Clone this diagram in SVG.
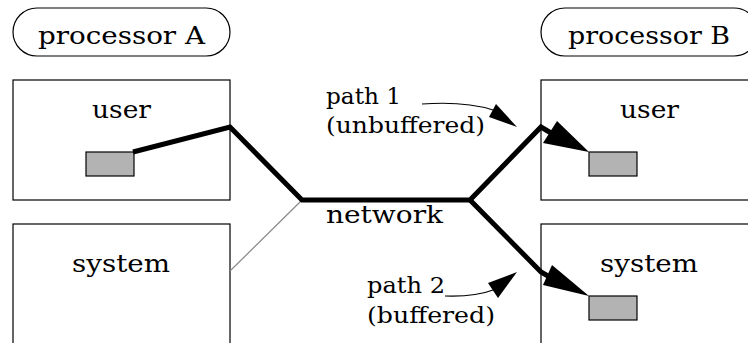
<svg xmlns="http://www.w3.org/2000/svg" width="748" height="343" viewBox="0 0 748 343">
  <style>
    .box { fill: #fff; stroke: #000; stroke-width: 1.2; }
    .pill { fill: #fff; stroke: #000; stroke-width: 1.2; }
    .buf { fill: #b3b3b3; stroke: #000; stroke-width: 1.2; }
    .big { font-family: "DejaVu Serif", "Liberation Serif", serif; font-size: 25px; fill: #000; }
    .small { font-family: "DejaVu Serif", "Liberation Serif", serif; font-size: 22px; fill: #000; }
    .path { fill: none; stroke: #000; stroke-width: 5; stroke-linejoin: miter; }
    .thin { fill: none; stroke: #000; stroke-width: 1.2; }
    .head { fill: #000; stroke: none; }
  </style>
  <rect width="748" height="343" fill="#fff"/>

  <g id="procA">
    <rect class="pill" x="13" y="8" width="217" height="48" rx="24" ry="24"/>
    <text class="big" x="38" y="44" textLength="167" lengthAdjust="spacingAndGlyphs">processor A</text>
  </g>
  <g id="procB">
    <rect class="pill" x="541" y="8" width="217" height="48" rx="24" ry="24"/>
    <text class="big" x="568" y="44" textLength="162" lengthAdjust="spacingAndGlyphs">processor B</text>
  </g>

  <g id="userA">
    <rect class="box" x="13" y="80" width="217" height="120"/>
    <text class="big" x="92" y="118" textLength="59" lengthAdjust="spacingAndGlyphs">user</text>
    <rect class="buf" x="86" y="152" width="48" height="24"/>
  </g>
  <g id="systemA">
    <rect class="box" x="13" y="224" width="217" height="130"/>
    <text class="big" x="72" y="272" textLength="98" lengthAdjust="spacingAndGlyphs">system</text>
  </g>
  <g id="userB">
    <rect class="box" x="541" y="80" width="217" height="120"/>
    <text class="big" x="620" y="118" textLength="59" lengthAdjust="spacingAndGlyphs">user</text>
    <rect class="buf" x="589" y="152" width="48" height="24"/>
  </g>
  <g id="systemB">
    <rect class="box" x="541" y="224" width="217" height="130"/>
    <text class="big" x="600" y="272" textLength="98" lengthAdjust="spacingAndGlyphs">system</text>
    <rect class="buf" x="589" y="296" width="48" height="24"/>
  </g>

  <g id="labels">
    <text class="small" x="326" y="104" textLength="75" lengthAdjust="spacingAndGlyphs">path 1</text>
    <text class="small" x="326" y="133" textLength="159" lengthAdjust="spacingAndGlyphs">(unbuffered)</text>
    <text class="big" x="326" y="223" textLength="117" lengthAdjust="spacingAndGlyphs">network</text>
    <text class="small" x="367" y="293" textLength="78" lengthAdjust="spacingAndGlyphs">path 2</text>
    <text class="small" x="367" y="323" textLength="128" lengthAdjust="spacingAndGlyphs">(buffered)</text>
  </g>

  <g id="connectors">
    <!-- link from the system box to the network -->
    <line x1="230" y1="271" x2="302" y2="200" stroke="#888" stroke-width="1.2"/>
    <!-- network route, sender buffer to the junction and on to B -->
    <polyline class="path" points="133,152 230,127 302,200 470,200 541,127 551,133"/>
    <polygon class="head" points="589,152 543,143 557,121"/>
    <polyline class="path" points="470,200 541,272 548,276"/>
    <polygon class="head" points="589,296 543,285 552,265"/>
    <!-- label pointers -->
    <path class="thin" d="M422,104 Q465,101 493,110"/>
    <polygon class="head" points="517,127 489,117 496,104"/>
    <path class="thin" d="M445,296 Q475,297 493,290"/>
    <polygon class="head" points="517,272 488,283 498,298"/>
  </g>
</svg>
